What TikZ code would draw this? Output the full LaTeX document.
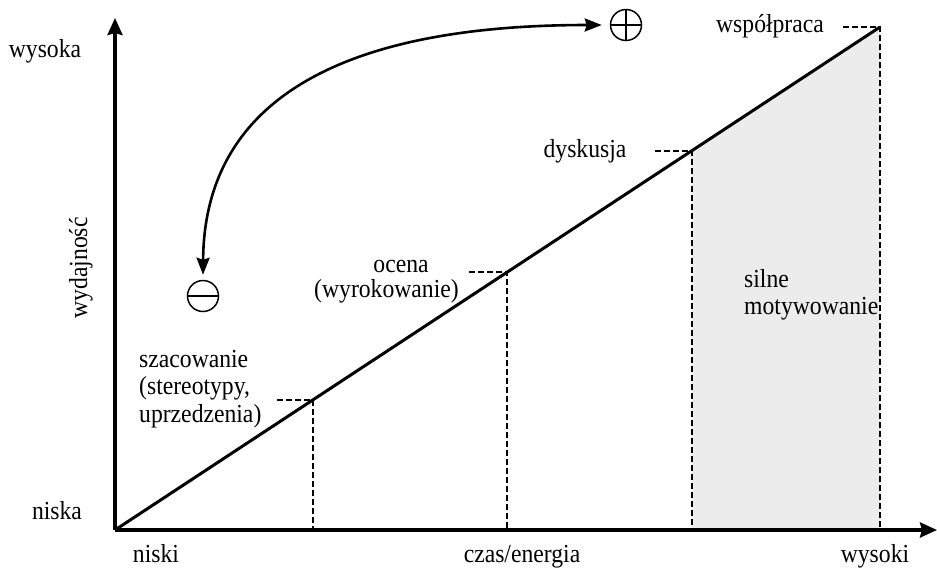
\documentclass[tikz,border=0pt]{standalone}
\usepackage{fontspec}
\setmainfont{Liberation Serif}[FakeStretch=0.91]
\usetikzlibrary{arrows.meta}
\definecolor{areagray}{RGB}{236,236,236}
\begin{document}
\begin{tikzpicture}[x=1pt,y=-1pt,
  lbl/.style={font=\fontsize{26}{27.5}\selectfont, inner sep=0pt},
  axis/.style={line width=3.4pt, -{Stealth[length=17pt,width=15pt,inset=2pt]}},
  mainline/.style={line width=3pt},
  guide/.style={line width=2.3pt, dash pattern=on 5.5pt off 3.5pt},
  curvearrow/.style={line width=2.6pt, {Stealth[length=17pt,width=13pt,inset=2pt]}-{Stealth[length=17pt,width=13pt,inset=2pt]}},
  sign/.style={circle, draw, line width=1.5pt, minimum size=31pt, inner sep=0pt},
  signline/.style={line width=1.5pt}]
\useasboundingbox (0,0) rectangle (937,574);
% key points
\coordinate (O) at (115,530);
\coordinate (YT) at (115,18);
\coordinate (XT) at (937,530);
\coordinate (P1) at (313,400);
\coordinate (P2) at (507,272);
\coordinate (P3) at (692,151);
\coordinate (P4) at (880,27);
\coordinate (B1) at (313,530);
\coordinate (B2) at (507,530);
\coordinate (B3) at (692,530);
\coordinate (B4) at (880,530);
\coordinate (L1) at (277,400);
\coordinate (L2) at (469,272);
\coordinate (L3) at (655,151);
\coordinate (L4) at (843,27);
% shaded area
\fill[areagray] (P3) -- (P4) -- (B4) -- (B3) -- cycle;
% guides
\draw[guide] (L1) -- (P1) -- (B1);
\draw[guide] (L2) -- (P2) -- (B2);
\draw[guide] (L3) -- (P3) -- (B3);
\draw[guide] (L4) -- (P4) -- (B4);
% main line
\draw[mainline] (O) -- (P4);
% axes
\draw[axis] (O) -- (YT);
\draw[axis] (O) -- (XT);
% axis labels
\node[lbl, anchor=base] (wysoka) at (45,57) {wysoka};
\node[lbl, anchor=base] (niska) at (57,519) {niska};
\node[lbl, rotate=90, anchor=base] (wyd) at (87,268) {wydajność};
\node[lbl, anchor=base] (niski) at (156,562) {niski};
\node[lbl, anchor=base] (czas) at (522,562) {czas/energia};
\node[lbl, anchor=base] (wysoki) at (875,562) {wysoki};
% stage labels
\node[lbl, anchor=base west] (szac1) at (139,367) {szacowanie};
\node[lbl, anchor=base west] (szac2) at (139,394.5) {(stereotypy,};
\node[lbl, anchor=base west] (szac3) at (139,422) {uprzedzenia)};
\node[lbl, anchor=base] (ocena) at (401,272) {ocena};
\node[lbl, anchor=base] (wyrok) at (386.5,297) {(wyrokowanie)};
\node[lbl, anchor=base] (dysk) at (585,157) {dyskusja};
\node[lbl, anchor=base] (wspol) at (770,32) {współpraca};
\node[lbl, anchor=base west] (silne1) at (744,287) {silne};
\node[lbl, anchor=base west] (silne2) at (744,314.5) {motywowanie};
% signs
\node[sign] (plus) at (626,25) {};
\draw[signline] (plus.west) -- (plus.east);
\draw[signline] (plus.north) -- (plus.south);
\node[sign] (minus) at (203,296) {};
\draw[signline] (minus.west) -- (minus.east);
% curved arrow
\draw[curvearrow] ([yshift=5pt]minus.north) .. controls (204,120) and (310,25) .. ([xshift=-8pt]plus.west);
\end{tikzpicture}
\end{document}
